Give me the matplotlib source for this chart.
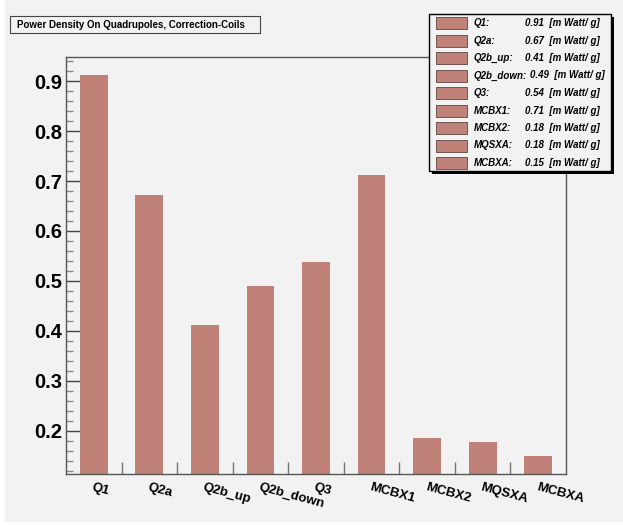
import matplotlib
matplotlib.use("Agg")
import matplotlib.pyplot as plt
from matplotlib.patches import Rectangle
from matplotlib.ticker import MultipleLocator, FixedLocator

plt.rcParams["font.family"] = ["Liberation Sans", "DejaVu Sans"]

# power density per magnet [m Watt/ g]
names = ["Q1", "Q2a", "Q2b_up", "Q2b_down", "Q3", "MCBX1", "MCBX2", "MQSXA", "MCBXA"]
power = [0.912, 0.673, 0.411, 0.489, 0.537, 0.713, 0.185, 0.177, 0.150]
title = "Power Density On Quadrupoles, Correction-Coils"
unit = "[m Watt/ g]"

BAR = "#c08179"
BG = "#f2f2f2"
W, H = 623, 525

fig = plt.figure(figsize=(W / 100, H / 100), dpi=100)
fig.patch.set_facecolor("white")
fig.add_artist(Rectangle((5 / W, 3 / H), 1, 1, transform=fig.transFigure,
                         facecolor=BG, edgecolor="none", zorder=-10))

# main frame (pixel geometry from the reference)
ax = fig.add_axes([66 / W, (H - 474) / H, 500 / W, 417 / H])
ax.set_facecolor(BG)
xs = [i + 0.5 for i in range(len(names))]
ax.bar(xs, power, width=0.5, color=BAR, edgecolor="none", zorder=2)
ax.set_xlim(0, len(names))
ax.set_ylim(0.113, 0.9487)

for s in ax.spines.values():
    s.set_color("#555555")
    s.set_linewidth(1.0)

ax.yaxis.set_major_locator(MultipleLocator(0.1))
ax.yaxis.set_minor_locator(MultipleLocator(0.02))
ax.yaxis.set_major_formatter(matplotlib.ticker.FormatStrFormatter("%.1f"))
ax.tick_params(axis="y", which="major", direction="in", length=11, width=1,
               color="#444444", labelsize=14.5, pad=3)
ax.tick_params(axis="y", which="minor", direction="in", length=5, width=1,
               color="#888888")
for t in ax.get_yticklabels():
    t.set_fontweight("bold")

ax.set_xticks(xs)
ax.set_xticklabels(names, rotation=-15, ha="left", va="top",
                   rotation_mode="anchor", fontsize=9.5, fontweight="bold")
ax.xaxis.set_minor_locator(FixedLocator(range(1, len(names))))
ax.tick_params(axis="x", which="major", length=0, pad=5)
ax.tick_params(axis="x", which="minor", direction="in", length=9, width=1,
               color="#777777")

# overlay in pixel coordinates for title box and legend
ov = fig.add_axes([0, 0, 1, 1], zorder=5)
ov.set_xlim(0, W)
ov.set_ylim(H, 0)
ov.axis("off")
ov.patch.set_alpha(0)

# title box
ov.add_patch(Rectangle((11, 17), 250, 17, facecolor="#555555", edgecolor="none"))
ov.add_patch(Rectangle((10, 16), 250, 17, facecolor=BG, edgecolor="#444444", lw=0.8))
ov.text(17, 24.8, title, fontsize=7.0, fontweight="bold", va="center", ha="left")

# legend
lx0, ly0, lw_, lh = 429, 14, 182, 157
ov.add_patch(Rectangle((lx0 + 3, ly0 + 3), lw_, lh, facecolor="black", edgecolor="none"))
ov.add_patch(Rectangle((lx0, ly0), lw_, lh, facecolor=BG, edgecolor="black", lw=1))
fig.canvas.draw()
renderer = fig.canvas.get_renderer()
for i, (n, v) in enumerate(zip(names, power)):
    yc = 23 + i * 17.5
    ov.add_patch(Rectangle((436, yc - 6), 31, 12, facecolor=BAR,
                           edgecolor="#6e5551", lw=0.7))
    t = ov.text(474, yc, f"{n}:", fontsize=7.0, fontweight="bold", style="italic",
                va="center", ha="left")
    name_end = t.get_window_extent(renderer).x1
    ov.text(max(525, name_end + 3), yc, f"{v:.2f}  {unit}", fontsize=7.0,
            fontweight="bold", style="italic", va="center", ha="left")

fig.savefig("out.png", dpi=100)
